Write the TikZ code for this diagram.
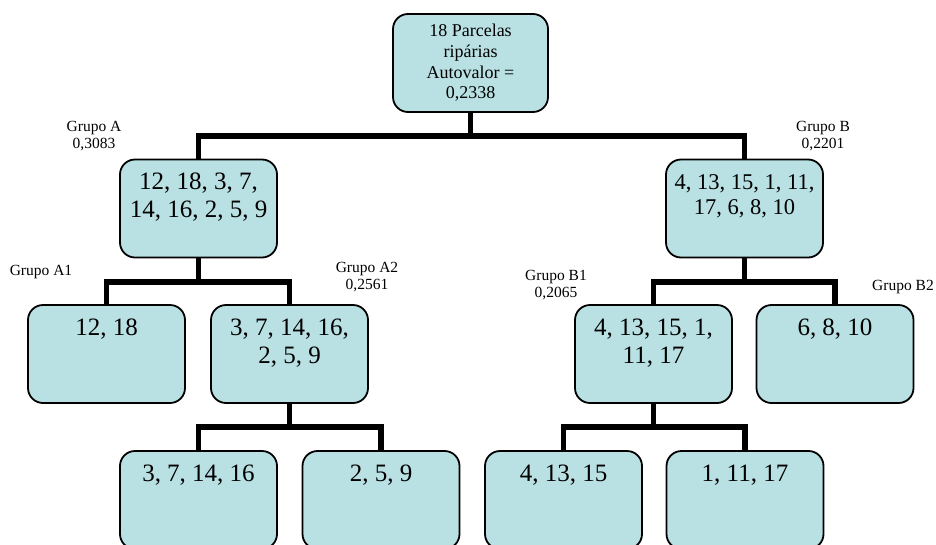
\documentclass[tikz,border=0pt]{standalone}
\usepackage{fontspec}
\setmainfont{Liberation Serif}
\usetikzlibrary{backgrounds}
\definecolor{boxfill}{HTML}{B9E0E3}
\newcommand\bxt[2][25]{\begin{minipage}[c][98pt][t]{156pt}\centering\fontsize{#1}{1.13\dimexpr#1pt\relax}\selectfont\rule{0pt}{30pt}#2\end{minipage}}
\tikzset{
  grpbox/.style={draw=black, line width=1.8pt, fill=boxfill, rounded corners=15pt,
    minimum width=157pt, minimum height=98pt, inner sep=0pt},
  link/.style={line width=5.5pt, line join=miter, black},
  grplabel/.style={align=center, inner sep=0pt, font=\fontsize{15.5}{17}\selectfont}
}
\begin{document}
\begin{tikzpicture}[x=1pt,y=-1pt]
\useasboundingbox (0,0) rectangle (936,544);
% boxes
\node[grpbox, minimum width=155pt, align=center, font=\fontsize{18}{20.6}\selectfont] (root) at (470.5,63) {18 Parcelas\\ripárias\\Autovalor =\\0,2338};
\node[grpbox] (A) at (198.5,208.5) {\bxt{12, 18, 3, 7,\\14, 16, 2, 5, 9}};
\node[grpbox] (B) at (744.5,208.5) {\bxt[22.5]{4, 13, 15, 1, 11,\\17, 6, 8, 10}};
\node[grpbox] (A1) at (106.5,354) {\bxt{12, 18}};
\node[grpbox] (A2) at (289.5,354) {\bxt{3, 7, 14, 16,\\2, 5, 9}};
\node[grpbox] (B1) at (653.5,354) {\bxt{4, 13, 15, 1,\\11, 17}};
\node[grpbox] (B2) at (835,354) {\bxt{6, 8, 10}};
\node[grpbox] (A2a) at (198.5,500) {\bxt{3, 7, 14, 16}};
\node[grpbox] (A2b) at (381,500) {\bxt{2, 5, 9}};
\node[grpbox] (B1a) at (563.5,500) {\bxt{4, 13, 15}};
\node[grpbox] (B1b) at (745,500) {\bxt{1, 11, 17}};
% bar levels
\coordinate (bar0) at (0,136);
\coordinate (bar1) at (0,282);
\coordinate (bar2) at (0,427);
% connectors
\begin{scope}[on background layer]
\draw[link] (root.south) -- (root.south |- bar0);
\draw[link] (A.north) -- (A.north |- bar0) -- (B.north |- bar0) -- (B.north);
\draw[link] (A.south) -- (A.south |- bar1);
\draw[link] (A1.north) -- (A1.north |- bar1) -- (A2.north |- bar1) -- (A2.north);
\draw[link] (B.south) -- (B.south |- bar1);
\draw[link] (B1.north) -- (B1.north |- bar1) -- (B2.north |- bar1) -- (B2.north);
\draw[link] (A2.south) -- (A2.south |- bar2);
\draw[link] (A2a.north) -- (A2a.north |- bar2) -- (A2b.north |- bar2) -- (A2b.north);
\draw[link] (B1.south) -- (B1.south |- bar2);
\draw[link] (B1a.north) -- (B1a.north |- bar2) -- (B1b.north |- bar2) -- (B1b.north);
\end{scope}
% labels
\node[grplabel] (lA) at (94,136.5) {Grupo A\\0,3083};
\node[grplabel] (lB) at (823,136.5) {Grupo B\\0,2201};
\node[grplabel] (lA1) at (41,272) {Grupo A1};
\node[grplabel] (lA2) at (367,277.5) {Grupo A2\\0,2561};
\node[grplabel] (lB1) at (556,285.5) {Grupo B1\\0,2065};
\node[grplabel] (lB2) at (903,287) {Grupo B2};
\end{tikzpicture}
\end{document}
